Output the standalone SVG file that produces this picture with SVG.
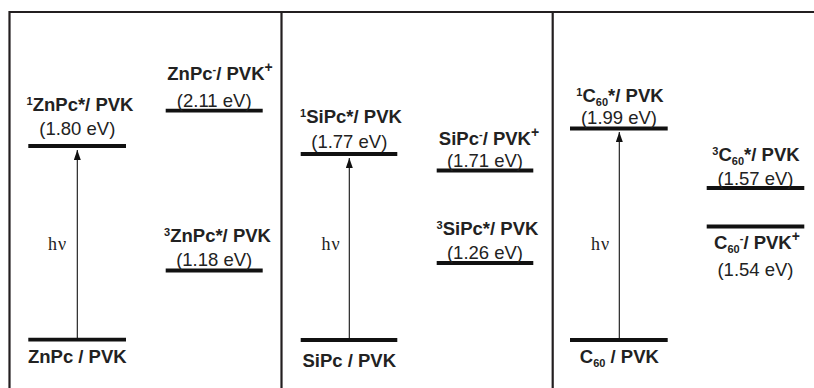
<svg xmlns="http://www.w3.org/2000/svg" width="814" height="388" viewBox="0 0 814 388">
<style>
.frame{stroke:#231f20;stroke-width:2.2;fill:none}
.lvl{stroke:#111;stroke-width:3.8}
.arr{stroke:#111;stroke-width:1.1}
.lb{font-family:"Liberation Sans",Arial,sans-serif;font-weight:bold;font-size:18.5px;fill:#222;text-anchor:middle}
.val{font-family:"Liberation Sans",Arial,sans-serif;font-size:18.5px;fill:#222;text-anchor:middle}
.hv{font-family:"Liberation Serif","Times New Roman",serif;font-size:18px;fill:#222;letter-spacing:1px}
.sup{font-size:11px}
.supb{font-size:14px}
</style>
<defs>
<marker id="ah" markerWidth="10" markerHeight="7" refX="10" refY="3.5" orient="auto" markerUnits="userSpaceOnUse" viewBox="0 0 10 7">
<path d="M0,0 L10,3.5 L0,7 Z" fill="#111"/>
</marker>
</defs>
<rect width="814" height="388" fill="#fff"/>
<g id="frame">
<path class="frame" d="M9.5,392 V12 H820 M281.5,12 V392 M552.7,12 V392"/>
</g>
<g id="connectors">
<line class="arr" x1="77.3" y1="340" x2="77.3" y2="150" marker-end="url(#ah)"/>
<line class="arr" x1="349.3" y1="340" x2="349.3" y2="158" marker-end="url(#ah)"/>
<line class="arr" x1="619.3" y1="340" x2="619.3" y2="132" marker-end="url(#ah)"/>
<text class="hv" x="48" y="250">hν</text>
<text class="hv" x="321.5" y="250">hν</text>
<text class="hv" x="591" y="250">hν</text>
</g>
<g id="znpc-ground">
<line class="lvl" x1="28.3" y1="339.7" x2="126" y2="339.7"/>
<text class="lb" x="77.3" y="363">ZnPc / PVK</text>
</g>
<g id="znpc-singlet">
<line class="lvl" x1="28.3" y1="146" x2="126" y2="146"/>
<text class="lb" x="80" y="111"><tspan class="sup" dy="-6">1</tspan><tspan dy="6">ZnPc*/ PVK</tspan></text>
<text class="val" x="77.3" y="135">(1.80 eV)</text>
</g>
<g id="znpc-cs">
<line class="lvl" x1="165.7" y1="110.7" x2="262.7" y2="110.7"/>
<text class="lb" x="220" y="80">ZnPc<tspan class="sup" dy="-7">-</tspan><tspan dy="7">/ PVK</tspan><tspan class="supb" dy="-8">+</tspan></text>
<text class="val" x="214.2" y="107">(2.11 eV)</text>
</g>
<g id="znpc-triplet">
<line class="lvl" x1="165.7" y1="270.5" x2="262.7" y2="270.5"/>
<text class="lb" x="217.5" y="241.7"><tspan class="sup" dy="-6">3</tspan><tspan dy="6">ZnPc*/ PVK</tspan></text>
<text class="val" x="214.2" y="266">(1.18 eV)</text>
</g>
<g id="sipc-ground">
<line class="lvl" x1="300.7" y1="340" x2="397.3" y2="340"/>
<text class="lb" x="349.3" y="366.5">SiPc / PVK</text>
</g>
<g id="sipc-singlet">
<line class="lvl" x1="300.7" y1="154" x2="397.3" y2="154"/>
<text class="lb" x="351" y="123"><tspan class="sup" dy="-6">1</tspan><tspan dy="6">SiPc*/ PVK</tspan></text>
<text class="val" x="349.3" y="147.5">(1.77 eV)</text>
</g>
<g id="sipc-cs">
<line class="lvl" x1="436.7" y1="170.5" x2="533.3" y2="170.5"/>
<text class="lb" x="489" y="145">SiPc<tspan class="sup" dy="-7">-</tspan><tspan dy="7">/ PVK</tspan><tspan class="supb" dy="-8">+</tspan></text>
<text class="val" x="485" y="167">(1.71 eV)</text>
</g>
<g id="sipc-triplet">
<line class="lvl" x1="436.7" y1="263" x2="533.3" y2="263"/>
<text class="lb" x="487.5" y="235"><tspan class="sup" dy="-6">3</tspan><tspan dy="6">SiPc*/ PVK</tspan></text>
<text class="val" x="485" y="259">(1.26 eV)</text>
</g>
<g id="c60-ground">
<line class="lvl" x1="570" y1="340" x2="667.7" y2="340"/>
<text class="lb" x="619.3" y="363">C<tspan class="sup" dy="4">60</tspan><tspan dy="-4"> / PVK</tspan></text>
</g>
<g id="c60-singlet">
<line class="lvl" x1="570" y1="128.5" x2="667.7" y2="128.5"/>
<text class="lb" x="620" y="101.5"><tspan class="sup" dy="-6">1</tspan><tspan dy="6">C</tspan><tspan class="sup" dy="4">60</tspan><tspan dy="-4">*/ PVK</tspan></text>
<text class="val" x="619" y="124">(1.99 eV)</text>
</g>
<g id="c60-triplet">
<line class="lvl" x1="706.7" y1="188" x2="804.3" y2="188"/>
<text class="lb" x="756" y="160.5"><tspan class="sup" dy="-6">3</tspan><tspan dy="6">C</tspan><tspan class="sup" dy="4">60</tspan><tspan dy="-4">*/ PVK</tspan></text>
<text class="val" x="755.5" y="185">(1.57 eV)</text>
</g>
<g id="c60-cs">
<line class="lvl" x1="706.7" y1="226.5" x2="804.3" y2="226.5"/>
<text class="lb" x="757" y="249">C<tspan class="sup" dy="4">60</tspan><tspan class="sup" dy="-11">-</tspan><tspan dy="7">/ PVK</tspan><tspan class="supb" dy="-8">+</tspan></text>
<text class="val" x="755.5" y="276">(1.54 eV)</text>
</g>
</svg>
